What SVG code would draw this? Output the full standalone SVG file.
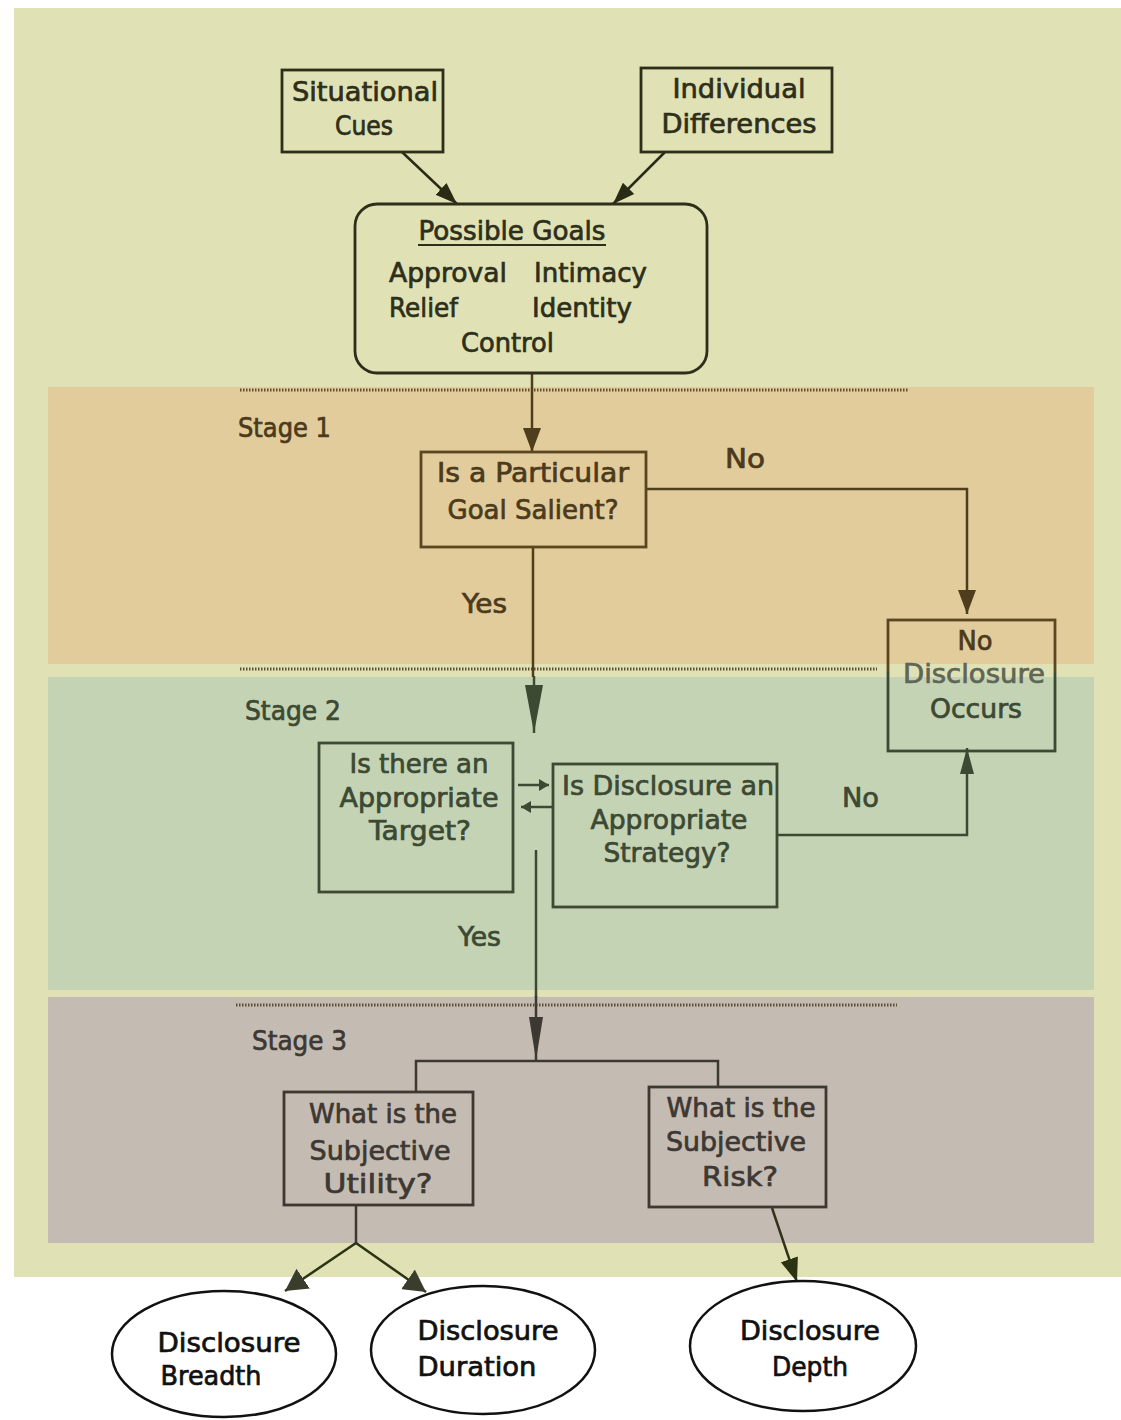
<svg xmlns="http://www.w3.org/2000/svg" width="1121" height="1420" viewBox="0 0 1121 1420">
<style>
.t{font-family:"DejaVu Sans","Liberation Sans",sans-serif;font-size:26px;text-anchor:middle;stroke-width:0.7}
.s{text-anchor:start}
.top{fill:#2e2f1a;stroke:#2e2f1a}
.st1{fill:#4b3b1c;stroke:#4b3b1c}
.st2{fill:#3c4933;stroke:#3c4933}
.st3{fill:#3e3833;stroke:#3e3833}
.bot{fill:#111;stroke:#111}
.box{fill:none;stroke-width:2.8}
.ln{fill:none;stroke-width:2.5}
.dot{stroke:#5e4e32;stroke-width:3;stroke-dasharray:1.5 1.5}
</style>
<defs>
<marker id="mTop" markerUnits="userSpaceOnUse" markerWidth="22" markerHeight="18" viewBox="0 0 22 18" refX="22" refY="9" orient="auto"><path d="M0,1 L22,9 L0,17 z" fill="#2a2b15"/></marker>
<marker id="mBrown" markerUnits="userSpaceOnUse" markerWidth="24" markerHeight="20" viewBox="0 0 24 20" refX="24" refY="10" orient="auto"><path d="M0,1 L24,10 L0,19 z" fill="#4f3e1d"/></marker>
<marker id="mGreen" markerUnits="userSpaceOnUse" markerWidth="26" markerHeight="16" viewBox="0 0 26 16" refX="26" refY="8" orient="auto"><path d="M0,1 L26,8 L0,15 z" fill="#3c4a33"/></marker>
<marker id="mSmall" markerUnits="userSpaceOnUse" markerWidth="10" markerHeight="12" viewBox="0 0 10 12" refX="10" refY="6" orient="auto"><path d="M0,0 L10,6 L0,12 z" fill="#3c4a33"/></marker>
<marker id="mLongG" markerUnits="userSpaceOnUse" markerWidth="48" markerHeight="18" viewBox="0 0 48 18" refX="48" refY="9" orient="auto"><path d="M0,0 L48,9 L0,18 z" fill="#3c4a33"/></marker>
<marker id="mLongS" markerUnits="userSpaceOnUse" markerWidth="43" markerHeight="14" viewBox="0 0 43 14" refX="43" refY="7" orient="auto"><path d="M0,0 L43,7 L0,14 z" fill="#3e3833"/></marker>
<marker id="mFat" markerUnits="userSpaceOnUse" markerWidth="22" markerHeight="24" viewBox="0 0 22 24" refX="22" refY="12" orient="auto"><path d="M0,0 L22,12 L0,24 z" fill="#3a3c2c"/></marker>
<marker id="mOlive" markerUnits="userSpaceOnUse" markerWidth="24" markerHeight="20" viewBox="0 0 24 20" refX="24" refY="10" orient="auto"><path d="M0,1 L24,10 L0,19 z" fill="#2c3310"/></marker>
<linearGradient id="gNo" gradientUnits="userSpaceOnUse" x1="0" y1="620" x2="0" y2="751">
<stop offset="0" stop-color="#5a4722"/><stop offset="0.4" stop-color="#5a4722"/><stop offset="0.4" stop-color="#3c4933"/><stop offset="1" stop-color="#3c4933"/>
</linearGradient>
</defs>

<g id="background">
<rect x="14" y="8" width="1107" height="1269" fill="#e0e2b6"/>
<rect x="48" y="387" width="1046" height="277" fill="#e2cc9c"/>
<rect x="48" y="677" width="1046" height="313" fill="#c5d3b5"/>
<rect x="48" y="997" width="1046" height="246" fill="#c4bcb3"/>
<line class="dot" x1="240" y1="390" x2="909" y2="390"/>
<line class="dot" x1="240" y1="669" x2="877" y2="669"/>
<line class="dot" x1="236" y1="1005" x2="897" y2="1005"/>
<text class="t s st1" x="238" y="437" textLength="93" lengthAdjust="spacingAndGlyphs">Stage 1</text>
<text class="t s st2" x="245" y="720" textLength="96" lengthAdjust="spacingAndGlyphs">Stage 2</text>
<text class="t s st3" x="252" y="1050" textLength="95" lengthAdjust="spacingAndGlyphs">Stage 3</text>
</g>

<g id="connectors">
<path class="ln" stroke="#2a2b15" d="M402,152 L457,204" marker-end="url(#mTop)"/>
<path class="ln" stroke="#2a2b15" d="M665,152 L613,204" marker-end="url(#mTop)"/>
<path class="ln" stroke="#4f3e1d" d="M532,373 V452" marker-end="url(#mBrown)"/>
<path class="ln" stroke="#4f3e1d" d="M646,489 H967 V614" marker-end="url(#mBrown)"/>
<path class="ln" stroke="#4f3e1d" d="M533,547 V677"/>
<path class="ln" stroke="#3c4a33" d="M534,676 V733" marker-end="url(#mLongG)"/>
<path class="ln" stroke="#3c4a33" d="M518,785 H549" marker-end="url(#mSmall)"/>
<path class="ln" stroke="#3c4a33" d="M553,807 H521" marker-end="url(#mSmall)"/>
<path class="ln" stroke="#3c4a33" d="M778,835 H967 V748" marker-end="url(#mGreen)"/>
<path class="ln" stroke="#3c4a33" d="M536,850 V997"/>
<path class="ln" stroke="#3e3833" d="M536,996 V1060" marker-end="url(#mLongS)"/>
<path class="ln" stroke="#3e3833" d="M416,1092 V1061 H718 V1087"/>
<path class="ln" stroke="#3e3833" d="M356,1205 V1244"/>
<path class="ln" stroke="#2c3310" d="M356,1243 L285,1291" marker-end="url(#mFat)"/>
<path class="ln" stroke="#2c3310" d="M356,1243 L426,1292" marker-end="url(#mFat)"/>
<path class="ln" stroke="#34321f" d="M772,1208 L797,1282" marker-end="url(#mOlive)"/>
</g>

<g id="situational-cues">
<rect class="box" stroke="#2e2f1a" x="282" y="70" width="161" height="82"/>
<text class="t top" x="365" y="101" textLength="146" lengthAdjust="spacingAndGlyphs">Situational</text>
<text class="t top" x="364" y="135" textLength="58" lengthAdjust="spacingAndGlyphs">Cues</text>
</g>

<g id="individual-differences">
<rect class="box" stroke="#2e2f1a" x="641" y="68" width="191" height="84"/>
<text class="t top" x="739" y="98" textLength="133" lengthAdjust="spacingAndGlyphs">Individual</text>
<text class="t top" x="739" y="133" textLength="155" lengthAdjust="spacingAndGlyphs">Differences</text>
</g>

<g id="possible-goals">
<rect class="box" stroke="#2e2f1a" x="355" y="204" width="352" height="169" rx="22"/>
<text class="t top" x="512" y="240" textLength="187" lengthAdjust="spacingAndGlyphs">Possible Goals</text>
<line x1="418" y1="245" x2="606" y2="245" stroke="#2e2f1a" stroke-width="2"/>
<text class="t s top" x="389" y="282" textLength="118" lengthAdjust="spacingAndGlyphs">Approval</text>
<text class="t s top" x="534" y="282" textLength="113" lengthAdjust="spacingAndGlyphs">Intimacy</text>
<text class="t s top" x="389" y="317" textLength="69" lengthAdjust="spacingAndGlyphs">Relief</text>
<text class="t s top" x="532" y="317" textLength="100" lengthAdjust="spacingAndGlyphs">Identity</text>
<text class="t s top" x="461" y="352" textLength="93" lengthAdjust="spacingAndGlyphs">Control</text>
</g>

<g id="goal-salient">
<rect class="box" stroke="#5a4722" x="421" y="452" width="225" height="95"/>
<text class="t st1" x="533" y="482" textLength="192" lengthAdjust="spacingAndGlyphs">Is a Particular</text>
<text class="t st1" x="533" y="519" textLength="171" lengthAdjust="spacingAndGlyphs">Goal Salient?</text>
<text class="t s st1" x="725" y="468" textLength="40" lengthAdjust="spacingAndGlyphs">No</text>
<text class="t s st1" x="462" y="613" textLength="45" lengthAdjust="spacingAndGlyphs">Yes</text>
</g>

<g id="no-disclosure">
<rect class="box" stroke="url(#gNo)" x="888" y="620" width="167" height="131"/>
<text class="t st1" x="975" y="650" textLength="35" lengthAdjust="spacingAndGlyphs">No</text>
<text class="t" fill="#5e6656" stroke="#5e6656" x="974" y="683" textLength="142" lengthAdjust="spacingAndGlyphs">Disclosure</text>
<text class="t st2" x="976" y="718" textLength="92" lengthAdjust="spacingAndGlyphs">Occurs</text>
</g>

<g id="appropriate-target">
<rect class="box" stroke="#3c4933" x="319" y="743" width="194" height="149"/>
<text class="t st2" x="419" y="773" textLength="139" lengthAdjust="spacingAndGlyphs">Is there an</text>
<text class="t st2" x="419" y="807" textLength="159" lengthAdjust="spacingAndGlyphs">Appropriate</text>
<text class="t st2" x="420" y="840" textLength="102" lengthAdjust="spacingAndGlyphs">Target?</text>
</g>

<g id="appropriate-strategy">
<rect class="box" stroke="#3c4933" x="553" y="764" width="224" height="143"/>
<text class="t st2" x="668" y="795" textLength="212" lengthAdjust="spacingAndGlyphs">Is Disclosure an</text>
<text class="t st2" x="669" y="829" textLength="157" lengthAdjust="spacingAndGlyphs">Appropriate</text>
<text class="t st2" x="667" y="862" textLength="127" lengthAdjust="spacingAndGlyphs">Strategy?</text>
<text class="t s st2" x="842" y="807" textLength="37" lengthAdjust="spacingAndGlyphs">No</text>
<text class="t s st2" x="458" y="946" textLength="43" lengthAdjust="spacingAndGlyphs">Yes</text>
</g>

<g id="subjective-utility">
<rect class="box" stroke="#3e3833" x="284" y="1092" width="189" height="113"/>
<text class="t st3" x="383" y="1123" textLength="148" lengthAdjust="spacingAndGlyphs">What is the</text>
<text class="t st3" x="380" y="1160" textLength="141" lengthAdjust="spacingAndGlyphs">Subjective</text>
<text class="t st3" x="378" y="1193" textLength="109" lengthAdjust="spacingAndGlyphs">Utility?</text>
</g>

<g id="subjective-risk">
<rect class="box" stroke="#3e3833" x="649" y="1087" width="177" height="120"/>
<text class="t st3" x="741" y="1117" textLength="149" lengthAdjust="spacingAndGlyphs">What is the</text>
<text class="t st3" x="736" y="1151" textLength="140" lengthAdjust="spacingAndGlyphs">Subjective</text>
<text class="t st3" x="740" y="1186" textLength="76" lengthAdjust="spacingAndGlyphs">Risk?</text>
</g>

<g id="disclosure-breadth">
<ellipse cx="224" cy="1354" rx="112" ry="63" fill="#fff" stroke="#111" stroke-width="2.5"/>
<text class="t bot" x="229" y="1352" textLength="143" lengthAdjust="spacingAndGlyphs">Disclosure</text>
<text class="t bot" x="211" y="1385" textLength="101" lengthAdjust="spacingAndGlyphs">Breadth</text>
</g>

<g id="disclosure-duration">
<ellipse cx="483" cy="1350" rx="112" ry="64" fill="#fff" stroke="#111" stroke-width="2.5"/>
<text class="t bot" x="488" y="1340" textLength="141" lengthAdjust="spacingAndGlyphs">Disclosure</text>
<text class="t bot" x="477" y="1376" textLength="119" lengthAdjust="spacingAndGlyphs">Duration</text>
</g>

<g id="disclosure-depth">
<ellipse cx="803" cy="1346" rx="113" ry="65" fill="#fff" stroke="#111" stroke-width="2.5"/>
<text class="t bot" x="810" y="1340" textLength="140" lengthAdjust="spacingAndGlyphs">Disclosure</text>
<text class="t bot" x="810" y="1376" textLength="76" lengthAdjust="spacingAndGlyphs">Depth</text>
</g>
</svg>
